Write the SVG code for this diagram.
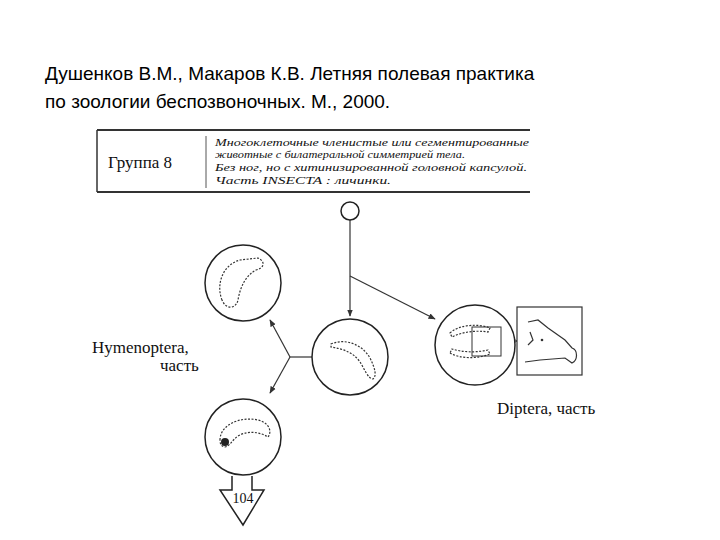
<svg xmlns="http://www.w3.org/2000/svg" width="720" height="540" viewBox="0 0 720 540">
<style>
.t{font-family:"Liberation Sans",Arial,sans-serif;font-size:19px;fill:#000}
.s{font-family:"Liberation Serif","Times New Roman",serif;fill:#111}
.i{font-family:"Liberation Serif","Times New Roman",serif;font-style:italic;font-size:11px;fill:#111}
.c{fill:#fff;stroke:#222;stroke-width:1.5}
.l{fill:none;stroke:#333;stroke-width:1.2}
.lv{fill:#fff;stroke:#333;stroke-width:1.2;stroke-dasharray:2 1.5}
</style>
<defs><marker id="a" viewBox="0 0 10 10" refX="9" refY="5" markerWidth="6" markerHeight="6" orient="auto"><path d="M0,1L10,5L0,9z" fill="#333"/></marker></defs>
<text class="t" x="45" y="80">Душенков В.М., Макаров К.В. Летняя полевая практика</text>
<text class="t" x="45" y="108">по зоологии беспозвоночных. М., 2000.</text>
<g id="header">
<line x1="97" y1="130" x2="530" y2="130" stroke="#333" stroke-width="2"/>
<line x1="97" y1="192" x2="530" y2="192" stroke="#333" stroke-width="2"/>
<line x1="97" y1="130" x2="97" y2="192" stroke="#333" stroke-width="1.5"/>
<line x1="206" y1="136" x2="206" y2="188" stroke="#555" stroke-width="1"/>
<text class="s" x="108" y="168" font-size="17">Группа 8</text>
<text class="i" x="215" y="146" textLength="314" lengthAdjust="spacingAndGlyphs">Многоклеточные членистые или сегментированные</text>
<text class="i" x="215" y="158" textLength="250" lengthAdjust="spacingAndGlyphs">животные с билатеральной симметрией тела.</text>
<text class="i" x="215" y="171" textLength="312" lengthAdjust="spacingAndGlyphs">Без ног, но с хитинизированной головной капсулой.</text>
<text class="i" x="215" y="184" textLength="176" lengthAdjust="spacingAndGlyphs">Часть INSECTA : личинки.</text>
</g>
<g id="connectors">
<line class="l" x1="350" y1="220" x2="350" y2="316" marker-end="url(#a)"/>
<line class="l" x1="350" y1="276" x2="435" y2="319" marker-end="url(#a)"/>
<line class="l" x1="312" y1="357" x2="290" y2="357"/>
<line class="l" x1="290" y1="357" x2="270" y2="320" marker-end="url(#a)"/>
<line class="l" x1="290" y1="357" x2="270" y2="393" marker-end="url(#a)"/>
<path d="M500,339H512M500,343H512" stroke="#333" stroke-width="1"/>
<path d="M510,337L517,341L510,345" fill="none" stroke="#333" stroke-width="1"/>
</g>
<g id="start"><circle class="c" cx="350" cy="211" r="9"/></g>
<g id="hym1">
<circle class="c" cx="243" cy="283" r="38"/>
<path class="lv" d="M222,300C216,285 222,265 240,260L258,258C266,262 264,268 256,270C245,276 240,288 238,300C236,309 226,310 222,300Z"/>
</g>
<g id="center">
<circle class="c" cx="350" cy="357" r="38"/>
<path class="lv" d="M331,344C345,338 362,344 370,358C375,368 377,376 373,379C368,379 364,368 360,362C353,352 343,349 331,347Z"/>
</g>
<g id="hym2">
<circle class="c" cx="243" cy="437" r="38"/>
<path class="lv" d="M220,440C220,425 240,416 258,420C270,423 272,432 268,437C260,432 248,430 238,436C232,440 230,446 225,447C221,446 220,444 220,440Z"/>
<circle cx="225" cy="442" r="4" fill="#222"/>
</g>
<g id="dipt">
<circle class="c" cx="475" cy="345" r="40"/>
<path class="lv" d="M450,333C458,325 478,323 490,328L488,332C475,330 462,332 452,337Z"/>
<path class="lv" d="M450,353C460,359 478,359 490,354L488,350C475,353 462,352 452,349Z"/>
<rect x="472" y="327" width="29" height="29" fill="none" stroke="#333" stroke-width="1"/>
<rect x="517" y="307" width="65" height="68" fill="#fff" stroke="#333" stroke-width="1.2"/>
<path class="l" d="M528,322L538,320L548,328L565,340L572,348C578,350 578,360 572,363L565,358L540,360L525,362M530,332L533,340L528,345"/>
<circle cx="542" cy="340" r="1.3" fill="#333"/>
<text class="s" x="497" y="414" font-size="17">Diptera, часть</text>
</g>
<g id="labels">
<text class="s" x="92" y="353" font-size="17">Hymenoptera,</text>
<text class="s" x="160" y="371" font-size="17">часть</text>
</g>
<g id="next">
<path d="M232,476V490H220L243,525L264,490H252V476" fill="#fff" stroke="#222" stroke-width="1.5"/>
<text class="s" x="243" y="503" font-size="14" text-anchor="middle">104</text>
</g>
</svg>
